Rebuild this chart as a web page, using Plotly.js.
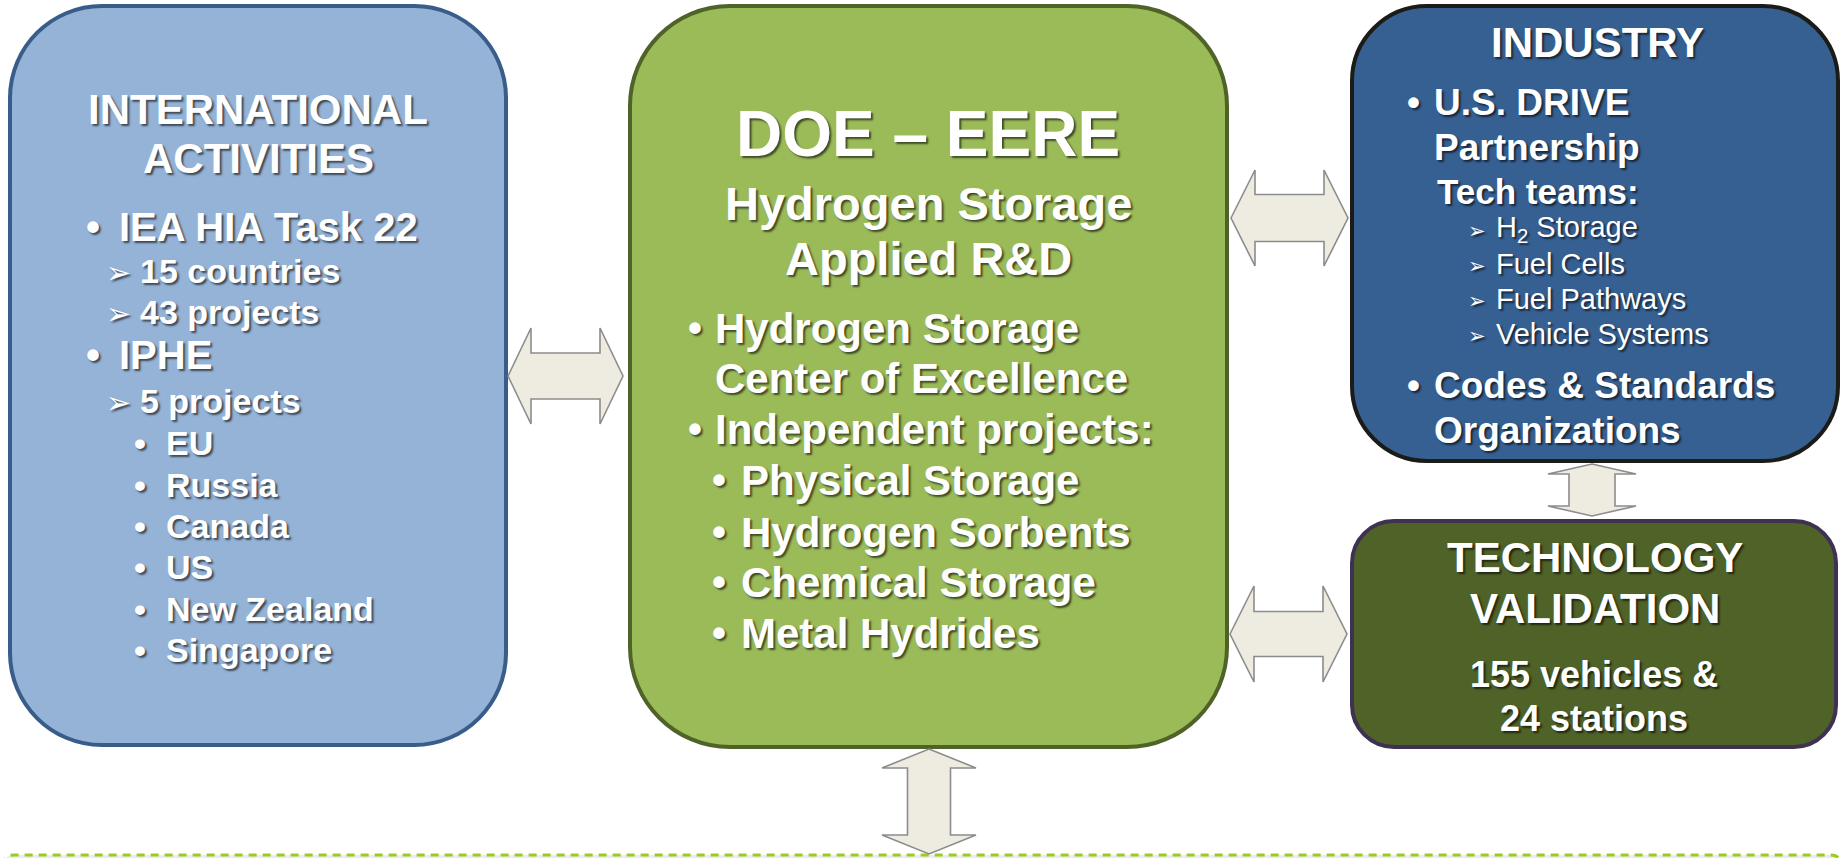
<!DOCTYPE html>
<html>
<head>
<meta charset="utf-8">
<script src="https://cdn.plot.ly/plotly-3.0.1.min.js"></script>
<style>
html,body{margin:0;padding:0;background:#fff;}
#chart{width:1845px;height:858px;}
</style>
</head>
<body>
<div id="chart"></div>
<script>
// ---------------- content ----------------
const intlTitle = ["INTERNATIONAL", "ACTIVITIES"];
const intlPrograms = ["IEA HIA Task 22", "IPHE"];
const ieaFacts = ["15 countries", "43 projects"];
const ipheFacts = ["5 projects"];
const ipheCountries = ["EU", "Russia", "Canada", "US", "New Zealand", "Singapore"];

const doeTitle = ["DOE – EERE"];
const doeSubtitle = ["Hydrogen Storage", "Applied R&D"];
const doeBullets = ["Hydrogen Storage", "Center of Excellence", "Independent projects:"];
const doeBulletMarks = [true, false, true];
const doeProjects = ["Physical Storage", "Hydrogen Sorbents", "Chemical Storage", "Metal Hydrides"];

const industryTitle = ["INDUSTRY"];
const industryLines = ["U.S. DRIVE", "Partnership", "Tech teams:"];
const industryMarks = [true, false, false];
const techTeams = ["H<sub>2</sub> Storage", "Fuel Cells", "Fuel Pathways", "Vehicle Systems"];
const industryOrgs = ["Codes & Standards", "Organizations"];
const industryOrgMarks = [true, false];

const tvTitle = ["TECHNOLOGY", "VALIDATION"];
const tvStats = ["155 vehicles &", "24 stations"];

// ---------------- layout geometry (pixels) ----------------
const FONT = "Arial, 'Liberation Sans', sans-serif";
const SHADOW = "2px 2px 2px rgba(0,0,0,0.6)";
const boxes = [
  {x0: 10, y0: 6, x1: 506, y1: 745, r: 92, fill: "#95B3D7", line: "#385D8A"},
  {x0: 630, y0: 6, x1: 1227, y1: 747, r: 100, fill: "#9BBB59", line: "#4F6228"},
  {x0: 1352, y0: 6, x1: 1838, y1: 461, r: 75, fill: "#366092", line: "#1B1B17"},
  {x0: 1352, y0: 521, x1: 1836, y1: 747, r: 42, fill: "#4F6228", line: "#3F3151"}
];
const hArrows = [
  {x0: 508, x1: 623, yc: 376, hh: 48, sh: 23, hl: 23},
  {x0: 1231, x1: 1348, yc: 218, hh: 48, sh: 23.5, hl: 24},
  {x0: 1230, x1: 1347, yc: 634, hh: 48, sh: 22.5, hl: 24}
];
const vArrows = [
  {y0: 749, y1: 854, xc: 929, hw: 47, sw: 21.5, hl: 19},
  {y0: 464, y1: 516, xc: 1592, hw: 44, sw: 23, hl: 10}
];

function rr(b) {
  const k = 0.5523 * b.r, r = b.r;
  const {x0, y0, x1, y1} = b;
  return `M ${x0 + r},${y0} H ${x1 - r} C ${x1 - r + k},${y0} ${x1},${y0 + r - k} ${x1},${y0 + r} ` +
    `V ${y1 - r} C ${x1},${y1 - r + k} ${x1 - r + k},${y1} ${x1 - r},${y1} ` +
    `H ${x0 + r} C ${x0 + r - k},${y1} ${x0},${y1 - r + k} ${x0},${y1 - r} ` +
    `V ${y0 + r} C ${x0},${y0 + r - k} ${x0 + r - k},${y0} ${x0 + r},${y0} Z`;
}
function hArrow(a) {
  const {x0, x1, yc, hh, sh, hl} = a;
  return `M ${x0},${yc} L ${x0 + hl},${yc - hh} V ${yc - sh} H ${x1 - hl} V ${yc - hh} L ${x1},${yc} ` +
    `L ${x1 - hl},${yc + hh} V ${yc + sh} H ${x0 + hl} V ${yc + hh} Z`;
}
function vArrow(a) {
  const {y0, y1, xc, hw, sw, hl} = a;
  return `M ${xc},${y0} L ${xc + hw},${y0 + hl} H ${xc + sw} V ${y1 - hl} H ${xc + hw} L ${xc},${y1} ` +
    `L ${xc - hw},${y1 - hl} H ${xc - sw} V ${y0 + hl} H ${xc - hw} Z`;
}

const shapes = [];
// bottom dashed panel
shapes.push({type: "path", layer: "below",
  path: "M 4,880 V 864 Q 4,855 14,855 H 1831 Q 1840,855 1840,864 V 880 Z",
  fillcolor: "#EBEBEB", line: {color: "#9ACD1E", width: 3, dash: "8px,6px"}});
boxes.forEach(b => shapes.push({type: "path", path: rr(b), fillcolor: b.fill,
  line: {color: b.line, width: 4}, layer: "below"}));
hArrows.forEach(a => shapes.push({type: "path", path: hArrow(a), fillcolor: "#EEECE1",
  line: {color: "#8C8C8C", width: 1.6}, layer: "below"}));
vArrows.forEach(a => shapes.push({type: "path", path: vArrow(a), fillcolor: "#EEECE1",
  line: {color: "#8C8C8C", width: 1.6}, layer: "below"}));

const ann = [];
function txt(text, x, y, size, opts = {}) {
  ann.push({
    text: (opts.bold === false ? text : "<b>" + text + "</b>"),
    x: x, y: y, xref: "x", yref: "y", showarrow: false,
    xanchor: opts.anchor || "left", yanchor: "middle",
    font: {family: opts.family || FONT, size: size, color: "#FFFFFF", shadow: SHADOW}
  });
}
function bullet(x, y, size) { txt("•", x, y, size); }
function arrowMark(x, y, size) { txt("➢", x, y, size, {family: "'DejaVu Sans', sans-serif", bold: false}); }

// International box
const intlTitleY = [109, 158];
intlTitle.forEach((t, i) => txt(t, 258, intlTitleY[i], 42, {anchor: "center"}));
const progY = [227, 355];
intlPrograms.forEach((t, i) => { bullet(84, progY[i], 40); txt(t, 117, progY[i], 40); });
const ieaY = [271, 312];
ieaFacts.forEach((t, i) => { arrowMark(104, ieaY[i] + 1, 30); txt(t, 138, ieaY[i], 34); });
const ipheY = [401];
ipheFacts.forEach((t, i) => { arrowMark(104, ipheY[i] + 1, 30); txt(t, 138, ipheY[i], 34); });
const countryY = [443, 485, 526, 567, 609, 650];
ipheCountries.forEach((t, i) => { bullet(132, countryY[i], 34); txt(t, 164, countryY[i], 34); });

// DOE box
txt(doeTitle[0], 928, 134, 64, {anchor: "center"});
const doeSubY = [203, 258];
doeSubtitle.forEach((t, i) => txt(t, 928, doeSubY[i], 47, {anchor: "center"}));
const doeBY = [328, 378, 429];
doeBullets.forEach((t, i) => { if (doeBulletMarks[i]) bullet(686, doeBY[i], 40); txt(t, 713, doeBY[i], 42); });
const doePY = [480, 532, 582, 633];
doeProjects.forEach((t, i) => { bullet(710, doePY[i], 40); txt(t, 739, doePY[i], 42); });

// Industry box
txt(industryTitle[0], 1597, 42, 42, {anchor: "center"});
const indY = [102, 147, 191];
const indSize = [37, 37, 35];
industryLines.forEach((t, i) => { if (industryMarks[i]) bullet(1405, indY[i], 37); txt(t, i === 2 ? 1435 : 1432, indY[i], indSize[i]); });
const teamY = [229, 264, 299, 334];
techTeams.forEach((t, i) => { arrowMark(1466, teamY[i] + 2, 21); txt(t, 1494, teamY[i], 29, {bold: false}); });
const orgY = [385, 430];
industryOrgs.forEach((t, i) => { if (industryOrgMarks[i]) bullet(1405, orgY[i], 37); txt(t, 1432, orgY[i], 37); });

// Technology validation box
const tvY = [557, 608];
tvTitle.forEach((t, i) => txt(t, 1595, tvY[i], 42, {anchor: "center"}));
const tvSY = [674, 718];
tvStats.forEach((t, i) => txt(t, 1594, tvSY[i], 36, {anchor: "center"}));

const layout = {
  width: 1845, height: 858,
  margin: {l: 0, r: 0, t: 0, b: 0},
  paper_bgcolor: "#FFFFFF", plot_bgcolor: "#FFFFFF",
  xaxis: {range: [0, 1845], visible: false, fixedrange: true},
  yaxis: {range: [858, 0], visible: false, fixedrange: true},
  showlegend: false,
  shapes: shapes,
  annotations: ann
};
Plotly.newPlot("chart", [], layout, {staticPlot: true, displayModeBar: false});
</script>
</body>
</html>
